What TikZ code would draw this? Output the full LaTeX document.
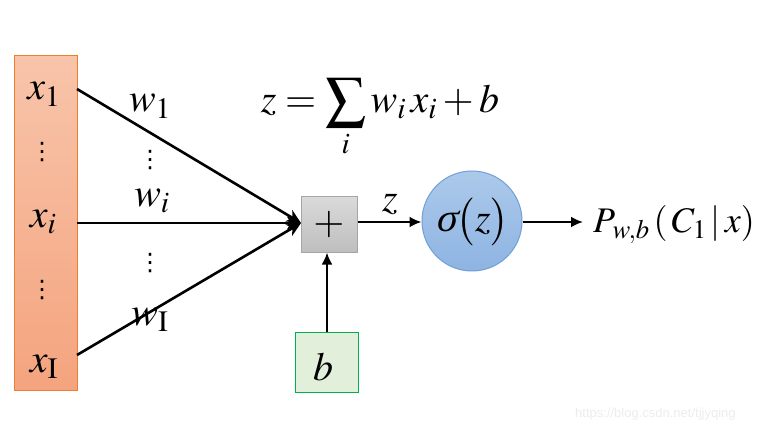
\documentclass[tikz,border=0pt]{standalone}
\usepackage{mathptmx}
\usepackage{fontspec}
\setmainfont{Liberation Serif}
\newfontfamily\wmfont{Liberation Sans}
\newfontfamily\dotfont{DejaVu Sans}
\newfontfamily\slantserif[FakeSlant=0.22]{Liberation Serif}
\usetikzlibrary{arrows.meta}
\begin{document}
\begin{tikzpicture}[x=1pt,y=-1pt,
  sym/.style={font=\fontsize{40}{44}\selectfont, inner sep=0pt, anchor=base},
  dotsnode/.style={font=\dotfont\fontsize{24}{24}\selectfont, inner sep=0pt},
  conn/.style={line width=2.6pt},
  arr/.style={conn, -{Latex[length=12pt,width=11pt]}},
  inarr/.style={conn, -{Stealth[length=14pt,width=13pt,inset=4pt]}}]
\useasboundingbox (0,0) rectangle (778,430);

% input column
\node[draw={rgb,255:red,237;green,125;blue,49}, line width=1pt,
      top color={rgb,255:red,248;green,196;blue,170},
      bottom color={rgb,255:red,244;green,164;blue,126},
      minimum width=63pt, minimum height=334pt, inner sep=0pt] (xbox) at (45.5,223) {};
\node[sym] (x1) at (44,100) {$x_1$};
\node[dotsnode] (d1) at (42,152) {⋮};
\node[sym] (xi) at (43,227) {$x_i$};
\node[dotsnode] (d2) at (42,290) {⋮};
\node[sym] (xI) at (44,372) {$x_{\mathrm{I}}$};

% sum box
\node[draw={rgb,255:red,166;green,166;blue,166}, line width=1pt,
      top color={rgb,255:red,218;green,218;blue,218},
      bottom color={rgb,255:red,190;green,190;blue,190},
      minimum width=56pt, minimum height=55pt, inner sep=0pt] (plus) at (329,224.5)
      {\fontsize{40}{44}\selectfont$+$};

% bias box
\node[draw={rgb,255:red,0;green,176;blue,80}, line width=1pt,
      fill={rgb,255:red,226;green,239;blue,218},
      minimum width=63pt, minimum height=60pt, inner sep=0pt] (bbox) at (327,362) {};
\node[sym] (b) at (323,380) {$b$};

% sigmoid circle
\node[circle, draw={rgb,255:red,111;green,160;blue,216}, line width=1pt,
      top color={rgb,255:red,172;green,201;blue,234},
      bottom color={rgb,255:red,142;green,180;blue,227},
      minimum size=100pt, inner sep=0pt] (sig) at (472,221) {};
\node[sym] (sigt) at (472,232) {$\mbox{\slantserif σ}\bigl(z\bigr)$};

% start points on input column
\coordinate (s1) at (77,89);
\coordinate (si) at (77,223);
\coordinate (sI) at (77,355);
\coordinate (pin) at (301,223);
\coordinate (out) at (583,222);

\draw[inarr] (s1) -- (pin);
\draw[inarr] (si) -- (pin);
\draw[inarr] (sI) -- (pin);
\draw[arr] (bbox.north) -- (bbox.north |- plus.south);
\draw[arr] (plus.east |- 0,222) -- (sig.west |- 0,222);
\draw[conn, -{Latex[length=12pt,width=11pt]}] (sig.east |- 0,222) -- (out);

% weight labels
\node[sym] (w1) at (150,112) {$w_1$};
\node[dotsnode] (dw1) at (150,160) {⋮};
\node[sym] (wi) at (152,207) {$w_i$};
\node[dotsnode] (dw2) at (150,263) {⋮};
\node[sym] (wI) at (150,325) {$w_{\mathrm{I}}$};

\node[sym] (zl) at (390,212) {$z$};

% formula
\node[sym] (eq) at (380,113) {$z=\displaystyle\sum_i w_i\,x_i+b$};

% output
\node[font=\fontsize{36}{38}\selectfont, inner sep=0pt, anchor=base west] (P) at (593,233)
  {$P_{\kern2pt w,b}\,(\,C_1\,|\,x)$};

% watermark
\node[font=\wmfont\fontsize{13}{13}\selectfont, text={rgb,255:red,236;green,236;blue,236},
      inner sep=0pt, anchor=base west] (wm) at (575,417) {https://blog.csdn.net/tjjyqing};
\end{tikzpicture}
\end{document}
